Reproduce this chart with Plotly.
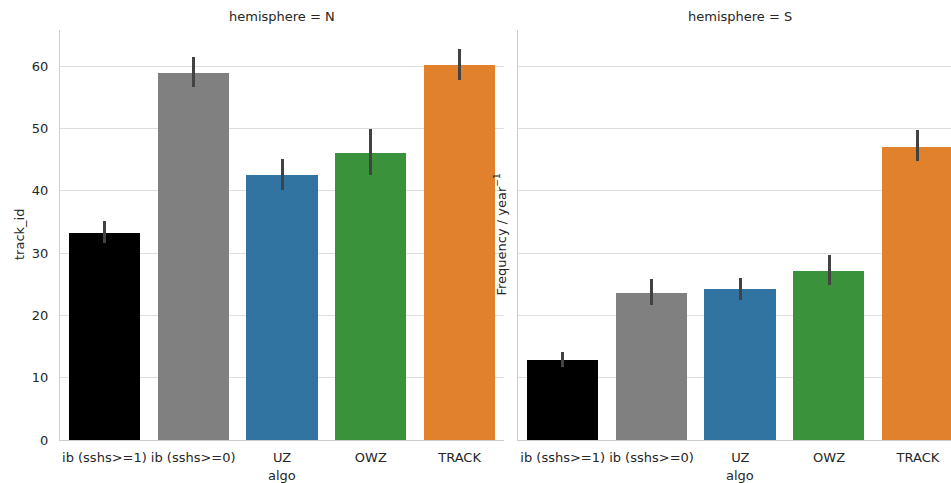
import plotly.graph_objects as go

# Categories and per-hemisphere means with confidence-interval bounds
algos = ["ib (sshs>=1)", "ib (sshs>=0)", "UZ", "OWZ", "TRACK"]
colors = ["#000000", "#808080", "#3274a1", "#3a923a", "#e1812c"]

north_mean = [33.2, 58.9, 42.6, 46.1, 60.2]
north_lo = [31.6, 56.7, 40.1, 42.6, 57.7]
north_hi = [35.1, 61.4, 45.1, 49.9, 62.8]

south_mean = [12.9, 23.6, 24.2, 27.2, 47.0]
south_lo = [11.7, 21.6, 22.5, 24.8, 44.7]
south_hi = [14.1, 25.9, 26.0, 29.7, 49.8]

y_ticks = [0, 10, 20, 30, 40, 50, 60]

W, H = 951, 483
ML, MR, MT, MB = 60, 0, 30, 43
plot_w = W - ML - MR
px_per_cat = 88.8

text_col = "#262626"
grid_col = "#dedede"
font = dict(family="DejaVu Sans", size=13, color=text_col)

fig = go.Figure()


def add_panel(mean, lo, hi, xa, ya):
    fig.add_trace(go.Bar(
        x=algos, y=mean, width=0.8,
        marker=dict(color=colors, line=dict(width=0)),
        error_y=dict(
            type="data", symmetric=False,
            array=[h - m for h, m in zip(hi, mean)],
            arrayminus=[m - l for m, l in zip(mean, lo)],
            color="#424242", thickness=3, width=0,
        ),
        xaxis=xa, yaxis=ya, showlegend=False, hoverinfo="skip",
    ))


add_panel(north_mean, north_lo, north_hi, "x", "y")
add_panel(south_mean, south_lo, south_hi, "x2", "y2")

left_w = 5 * px_per_cat
d1 = (0, left_w / plot_w)
right_start = 518.3 - ML
d2 = (right_start / plot_w, 1.0)
right_max = (W - 518.3) / px_per_cat - 0.5

yrange = [0, 65.8]
common_x = dict(
    type="category", showgrid=False, zeroline=False,
    showline=True, linecolor="#cccccc", linewidth=1,
    ticks="", tickfont=font, fixedrange=True, ticklabelstandoff=5,
)
common_y = dict(
    range=yrange, tickvals=y_ticks, showgrid=True, gridcolor=grid_col,
    gridwidth=1, zeroline=False, showline=True, linecolor="#cccccc",
    linewidth=1, ticks="", tickfont=font, ticklabelstandoff=8,
)

fig.update_layout(
    width=W, height=H,
    margin=dict(l=ML, r=MR, t=MT, b=MB),
    paper_bgcolor="white", plot_bgcolor="white",
    font=font, bargap=0,
    xaxis=dict(domain=list(d1), range=[-0.5, 4.5], anchor="y", **common_x),
    xaxis2=dict(domain=list(d2), range=[-0.5, right_max], anchor="y2", **common_x),
    yaxis=dict(domain=[0, 1], anchor="x", showticklabels=True, **common_y),
    yaxis2=dict(domain=[0, 1], anchor="x2", showticklabels=False, **common_y),
)


def px_to_paper_x(px):
    return (px - ML) / plot_w


def px_to_paper_y(py):
    return (H - MB - py) / (H - MT - MB)


left_center = ML + left_w / 2
right_center = 518.3 + left_w / 2

annotations = [
    dict(text="hemisphere = N", x=px_to_paper_x(left_center), y=px_to_paper_y(17)),
    dict(text="hemisphere = S", x=px_to_paper_x(right_center), y=px_to_paper_y(17)),
    dict(text="algo", x=px_to_paper_x(left_center), y=px_to_paper_y(475)),
    dict(text="algo", x=px_to_paper_x(right_center), y=px_to_paper_y(475)),
    dict(text="track_id", x=px_to_paper_x(19), y=px_to_paper_y(235), textangle=-90),
    dict(text="Frequency / year<sup>−1</sup>", x=px_to_paper_x(500.5),
         y=px_to_paper_y(235), textangle=-90),
]
for a in annotations:
    fig.add_annotation(xref="paper", yref="paper", showarrow=False,
                       xanchor="center", yanchor="middle", font=font, **a)

fig.write_html("out.html")
